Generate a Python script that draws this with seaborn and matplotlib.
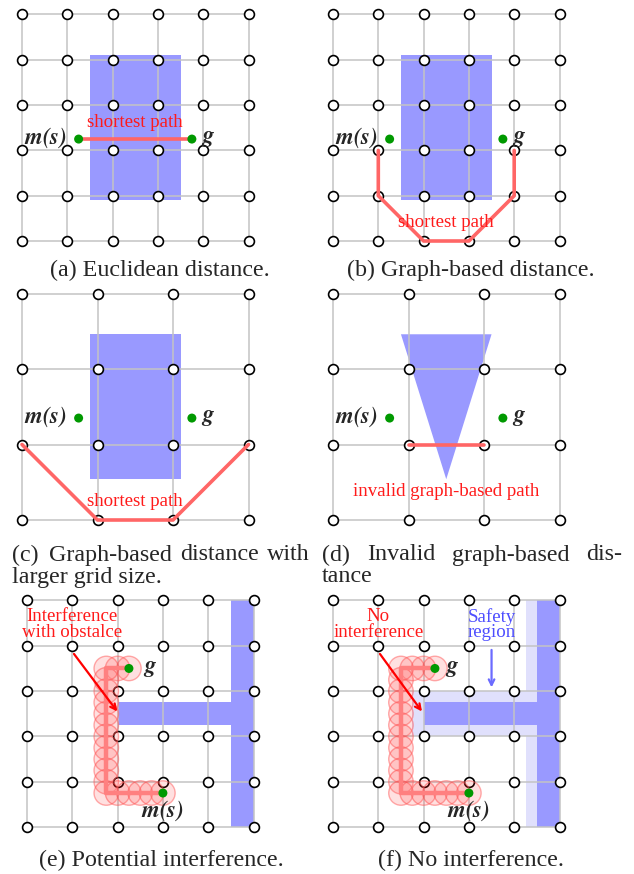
import numpy as np
import pandas as pd
import matplotlib.pyplot as plt
import matplotlib.patches as mpatches
import seaborn as sns

sns.set_style('white')
plt.rcParams['font.family'] = ['Liberation Serif', 'DejaVu Serif']
plt.rcParams['mathtext.fontset'] = 'stix'

W, H = 634, 874
U = 45.3  # pixels per grid unit

# grids
fine_ticks = [0, 1, 2, 3, 4, 5]
coarse_ticks = [0, 5 / 3, 10 / 3, 5]

# start / goal for panels a-d
ms_pt = (1.25, 2.25)
g_pt = (3.75, 2.25)

# obstacle a-c (x, y, w, h)
rect_obs = (1.5, 0.9, 2.0, 3.2)
tri_x = [1.5, 3.5, 2.5]
tri_y = [4.1, 4.1, 0.9]

# paths
path_a_x = [1.25, 3.75]
path_a_y = [2.25, 2.25]
path_b_x = [1, 1, 2, 3, 4, 4]
path_b_y = [2, 1, 0, 0, 1, 2]
path_c_x = [0, 5 / 3, 10 / 3, 5]
path_c_y = [5 / 3, 0, 0, 5 / 3]
path_d_x = [5 / 3, 10 / 3]
path_d_y = [5 / 3, 5 / 3]

# T obstacle (e, f) and safety region (f)
t_bars = [(4.5, 0.0, 0.5, 5.0), (2.0, 2.25, 2.5, 0.5)]
safety_bars = [(4.25, 0.0, 0.75, 5.0), (1.75, 2.0, 2.75, 1.0)]

path_e_x = [3.0, 1.75, 1.75, 2.25]
path_e_y = [0.75, 0.75, 3.5, 3.5]
path_f_x = [3.0, 1.5, 1.5, 2.25]
path_f_y = [0.75, 0.75, 3.5, 3.5]

# footprint circles along the paths
circ_e_x = [3.0, 2.75, 2.5, 2.25, 2.0] + [1.75] * 12 + [2.0, 2.25]
circ_e_y = [0.75] * 5 + [0.75, 1.0, 1.25, 1.5, 1.75, 2.0, 2.25, 2.5, 2.75, 3.0, 3.25, 3.5] + [3.5, 3.5]
circ_f_x = [3.0, 2.75, 2.5, 2.25, 2.0, 1.75] + [1.5] * 12 + [1.75, 2.0, 2.25]
circ_f_y = [0.75] * 6 + [0.75, 1.0, 1.25, 1.5, 1.75, 2.0, 2.25, 2.5, 2.75, 3.0, 3.25, 3.5] + [3.5, 3.5, 3.5]
circ_r = 0.27

BLUE = '#9999ff'
LIGHT = '#e0e0fc'
PATH = '#ff6666'
RED = '#ff1a1a'
LBL = 16.5
TXT = 13.6
CAP = 17.3
MS = r'$\mathbfit{m(s)}$'
G = r'$\mathbfit{g}$'

fig = plt.figure(figsize=(W / 100, H / 100), dpi=100)


def make_ax(x0, y0, pad=0.6):
    left = (x0 - pad * U) / W
    bottom = (H - y0 - pad * U) / H
    ax = fig.add_axes([left, bottom, (5 + 2 * pad) * U / W, (5 + 2 * pad) * U / H])
    ax.set_xlim(-pad, 5 + pad)
    ax.set_ylim(-pad, 5 + pad)
    ax.axis('off')
    return ax


def draw_grid(ax, ticks):
    for t in ticks:
        ax.plot([t, t], [0, 5], color='#c4c4c4', lw=1.1, zorder=2)
        ax.plot([0, 5], [t, t], color='#c4c4c4', lw=1.1, zorder=2)
    xx, yy = np.meshgrid(ticks, ticks)
    nodes = pd.DataFrame({'x': xx.ravel(), 'y': yy.ravel()})
    sns.scatterplot(data=nodes, x='x', y='y', s=50, color='white', edgecolor='black',
                    linewidth=1.2, ax=ax, zorder=4, legend=False)
    ax.set_xlim(-0.6, 5.6)
    ax.set_ylim(-0.6, 5.6)
    ax.axis('off')


def draw_path(ax, px, py, lw=2.6, color=PATH):
    sns.lineplot(x=px, y=py, sort=False, estimator=None, color=color, lw=lw, ax=ax, zorder=5)


def draw_ends(ax, ms, g):
    pts = pd.DataFrame({'x': [ms[0], g[0]], 'y': [ms[1], g[1]]})
    sns.scatterplot(data=pts, x='x', y='y', s=42, color='#009900', edgecolor='none',
                    ax=ax, zorder=7, legend=False)


def label_ab(ax):
    ax.text(1.0, 2.27, MS, ha='right', va='center', fontsize=LBL, zorder=8)
    ax.text(3.95, 2.27, G, ha='left', va='center', fontsize=LBL, zorder=8)


# (a)
ax = make_ax(22, 241)
ax.add_patch(mpatches.Rectangle(rect_obs[:2], rect_obs[2], rect_obs[3], color=BLUE, lw=0, zorder=1))
draw_grid(ax, fine_ticks)
draw_path(ax, path_a_x, path_a_y)
draw_ends(ax, ms_pt, g_pt)
label_ab(ax)
ax.text(2.5, 2.62, 'shortest path', color=RED, ha='center', va='center', fontsize=TXT, zorder=8)

# (b)
ax = make_ax(333, 241)
ax.add_patch(mpatches.Rectangle(rect_obs[:2], rect_obs[2], rect_obs[3], color=BLUE, lw=0, zorder=1))
draw_grid(ax, fine_ticks)
draw_path(ax, path_b_x, path_b_y)
draw_ends(ax, ms_pt, g_pt)
label_ab(ax)
ax.text(2.5, 0.4, 'shortest path', color=RED, ha='center', va='center', fontsize=TXT, zorder=8)

# (c)
ax = make_ax(22, 520)
ax.add_patch(mpatches.Rectangle(rect_obs[:2], rect_obs[2], rect_obs[3], color=BLUE, lw=0, zorder=1))
draw_grid(ax, coarse_ticks)
draw_path(ax, path_c_x, path_c_y)
draw_ends(ax, ms_pt, g_pt)
label_ab(ax)
ax.text(2.5, 0.4, 'shortest path', color=RED, ha='center', va='center', fontsize=TXT, zorder=8)

# (d)
ax = make_ax(333, 520)
ax.add_patch(mpatches.Polygon(list(zip(tri_x, tri_y)), closed=True, color=BLUE, lw=0, zorder=1))
draw_grid(ax, coarse_ticks)
draw_path(ax, path_d_x, path_d_y)
draw_ends(ax, ms_pt, g_pt)
label_ab(ax)
ax.text(2.5, 0.64, 'invalid graph-based path', color=RED, ha='center', va='center', fontsize=TXT, zorder=8)


def footprint(ax, cx, cy, px, py):
    for x, y in zip(cx, cy):
        ax.add_patch(mpatches.Circle((x, y), circ_r, facecolor=(1, 0, 0, 0.12),
                                     edgecolor=(1, 0.35, 0.35, 0.5), lw=1.0, zorder=5))
    draw_path(ax, px, py, lw=3.2, color='#ff8080')
    ends = pd.DataFrame({'x': [px[0], px[-1]], 'y': [py[0], py[-1]]})
    sns.scatterplot(data=ends, x='x', y='y', s=42, color='#009900', edgecolor='none',
                    ax=ax, zorder=7, legend=False)


# (e)
ax = make_ax(27, 827)
for b in t_bars:
    ax.add_patch(mpatches.Rectangle(b[:2], b[2], b[3], color=BLUE, lw=0, zorder=1))
draw_grid(ax, fine_ticks)
footprint(ax, circ_e_x, circ_e_y, path_e_x, path_e_y)
ax.text(2.55, 3.5, G, ha='left', va='center', fontsize=LBL, zorder=8)
ax.text(3.0, 0.37, MS, ha='center', va='center', fontsize=LBL, zorder=8)
ax.text(1.0, 4.47, 'Interference\nwith obstalce', color=RED, ha='center', va='center',
        fontsize=TXT, linespacing=0.9, zorder=8)
ax.annotate('', xy=(2.03, 2.5), xytext=(1.0, 3.87),
            arrowprops=dict(arrowstyle='->', color='red', lw=1.6), zorder=8)

# (f)
ax = make_ax(333, 827)
for b in safety_bars:
    ax.add_patch(mpatches.Rectangle(b[:2], b[2], b[3], color=LIGHT, lw=0, zorder=0.5))
for b in t_bars:
    ax.add_patch(mpatches.Rectangle(b[:2], b[2], b[3], color=BLUE, lw=0, zorder=1))
draw_grid(ax, fine_ticks)
footprint(ax, circ_f_x, circ_f_y, path_f_x, path_f_y)
ax.text(2.48, 3.5, G, ha='left', va='center', fontsize=LBL, zorder=8)
ax.text(3.0, 0.37, MS, ha='center', va='center', fontsize=LBL, zorder=8)
ax.text(1.0, 4.47, 'No\ninterference', color=RED, ha='center', va='center',
        fontsize=TXT, linespacing=0.9, zorder=8)
ax.annotate('', xy=(2.0, 2.5), xytext=(1.0, 3.87),
            arrowprops=dict(arrowstyle='->', color='red', lw=1.6), zorder=8)
ax.text(3.5, 4.47, 'Safety\nregion', color='#4d4dff', ha='center', va='center',
        fontsize=TXT, linespacing=0.9, zorder=8)
ax.annotate('', xy=(3.5, 3.02), xytext=(3.5, 3.97),
            arrowprops=dict(arrowstyle='->', color='#6b6bff', lw=1.6), zorder=8)


# captions
def cap(x, y, s, ha='center'):
    fig.text(x / W, 1 - y / H, s, ha=ha, va='center', fontsize=CAP)


cap(160, 270, '(a) Euclidean distance.')
cap(471, 270, '(b) Graph-based distance.')
for x, s, ha in [(12, '(c)', 'left'), (49, 'Graph-based', 'left'), (180, 'distance', 'left'), (310, 'with', 'right')]:
    cap(x, 555, s, ha)
cap(12, 577, 'larger grid size.', 'left')
for x, s, ha in [(322, '(d)', 'left'), (367, 'Invalid', 'left'), (452, 'graph-based', 'left'), (622, 'dis-', 'right')]:
    cap(x, 555, s, ha)
cap(322, 577, 'tance', 'left')
cap(161, 860, '(e) Potential interference.')
cap(471, 860, '(f) No interference.')

fig.savefig('out.png', dpi=100)
